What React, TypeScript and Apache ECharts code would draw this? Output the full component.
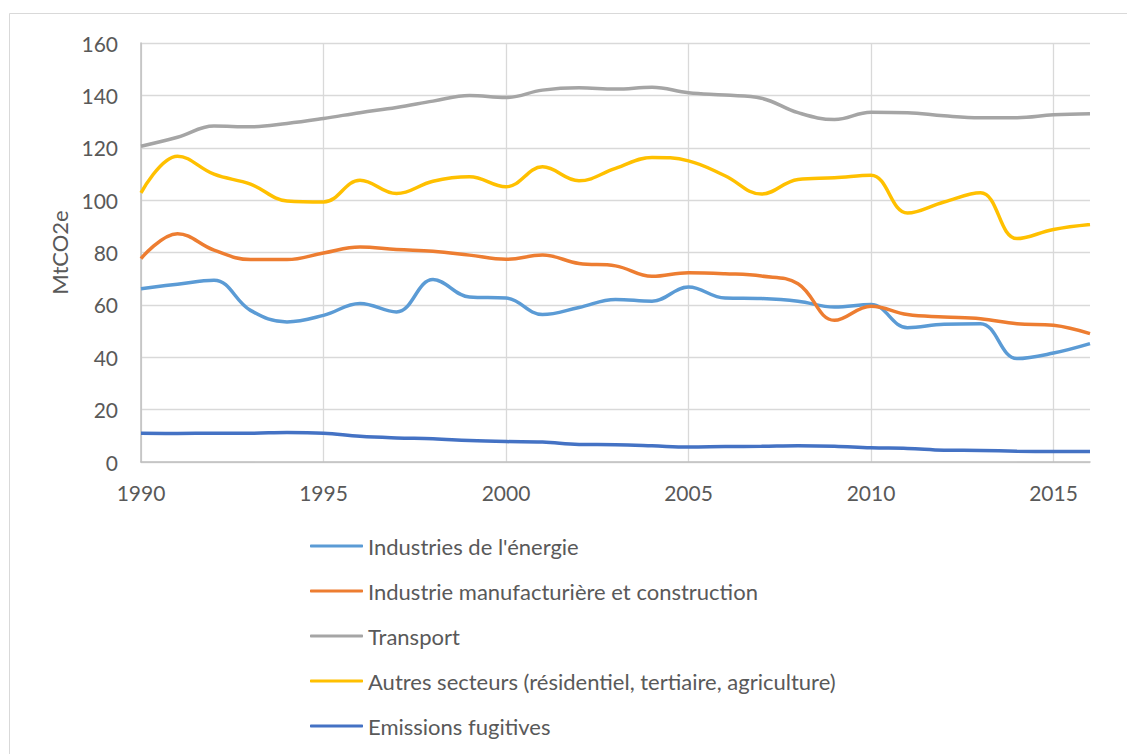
import React, { useEffect, useRef } from "react";
import * as echarts from "echarts";

const years = [
  "1990", "1991", "1992", "1993", "1994", "1995", "1996", "1997", "1998", "1999",
  "2000", "2001", "2002", "2003", "2004", "2005", "2006", "2007", "2008", "2009",
  "2010", "2011", "2012", "2013", "2014", "2015", "2016",
];

const energie = [
  66.2, 67.9, 69.4, 57.9, 53.5, 56.0, 60.5, 57.3, 69.7, 63.0,
  62.6, 56.3, 59.0, 62.1, 61.4, 66.8, 62.6, 62.4, 61.4, 59.2,
  60.1, 51.3, 52.6, 52.8, 39.5, 41.6, 45.2,
];

const manufacturiere = [
  77.7, 87.2, 80.9, 77.3, 77.3, 79.8, 82.1, 81.1, 80.5, 79.0,
  77.4, 79.0, 75.8, 74.9, 70.9, 72.3, 71.9, 71.0, 68.1, 54.1,
  59.5, 56.3, 55.4, 54.7, 52.8, 52.2, 49.0,
];

const transport = [
  120.6, 124.0, 128.3, 128.0, 129.3, 131.2, 133.4, 135.4, 137.8, 140.0,
  139.2, 142.0, 142.9, 142.4, 143.1, 141.0, 140.1, 138.9, 133.4, 130.8,
  133.6, 133.4, 132.2, 131.5, 131.5, 132.6, 133.0,
];

const autres = [
  102.8, 116.8, 109.9, 106.1, 99.7, 99.3, 107.6, 102.5, 107.2, 108.9,
  105.1, 112.7, 107.4, 112.1, 116.3, 115.0, 109.3, 102.3, 107.9, 108.5,
  109.5, 95.1, 99.3, 102.8, 85.3, 88.8, 90.7,
];

const fugitives = [
  11.0, 10.9, 11.0, 11.0, 11.3, 11.0, 9.8, 9.2, 8.9, 8.2,
  7.8, 7.6, 6.7, 6.6, 6.2, 5.7, 5.9, 6.0, 6.2, 6.0,
  5.4, 5.2, 4.5, 4.4, 4.1, 4.0, 4.0,
];

const seriesNames = [
  "Industries de l'énergie",
  "Industrie manufacturière et construction",
  "Transport",
  "Autres secteurs (résidentiel, tertiaire, agriculture)",
  "Emissions fugitives",
];

const seriesData = [energie, manufacturiere, transport, autres, fugitives];
const seriesColors = ["#5B9BD5", "#ED7D31", "#A5A5A5", "#FFC000", "#4472C4"];

const FONT = "Lato, 'Open Sans', sans-serif";
const TEXT = "#595959";

export default function App() {
  const ref = useRef<HTMLDivElement>(null);

  useEffect(() => {
    if (!ref.current) return;
    const chart = echarts.init(ref.current, undefined, { renderer: "svg" });
    chart.setOption({
      animation: false,
      backgroundColor: "#ffffff",
      textStyle: { fontFamily: FONT },
      graphic: [
        {
          type: "rect",
          shape: { x: 9.5, y: 13.5, width: 1140, height: 780 },
          style: { fill: "none", stroke: "#d9d9d9", lineWidth: 1 },
          silent: true,
        },
      ],
      grid: { left: 141, top: 43, right: 37, bottom: 292, containLabel: false },
      xAxis: {
        type: "category",
        data: years,
        boundaryGap: false,
        axisLine: { show: true, lineStyle: { color: "#bfbfbf", width: 1.5 } },
        axisTick: { show: false },
        axisLabel: {
          interval: 4,
          margin: 20,
          color: TEXT,
          fontSize: 21,
          fontFamily: FONT,
        },
        splitLine: {
          show: true,
          interval: 4,
          lineStyle: { color: "#d9d9d9", width: 1.3 },
        },
      },
      yAxis: {
        type: "value",
        min: 0,
        max: 160,
        interval: 20,
        name: "MtCO2e",
        nameLocation: "middle",
        nameGap: 68,
        nameTextStyle: { color: TEXT, fontSize: 22, fontFamily: FONT },
        axisLine: { show: true, lineStyle: { color: "#bfbfbf", width: 1.5 } },
        axisTick: { show: false },
        axisLabel: { margin: 23, color: TEXT, fontSize: 21, fontFamily: FONT },
        splitLine: { show: true, lineStyle: { color: "#d9d9d9", width: 1.3 } },
      },
      legend: {
        orient: "vertical",
        left: 305,
        top: 530,
        icon: "roundRect",
        itemWidth: 53,
        itemHeight: 3,
        itemGap: 23,
        textStyle: { color: TEXT, fontSize: 22, fontFamily: FONT, lineHeight: 22 },
        data: seriesNames,
      },
      series: seriesNames.map((name, i) => ({
        name,
        type: "line",
        data: seriesData[i],
        smooth: 0.4,
        symbol: "none",
        lineStyle: { color: seriesColors[i], width: 3.5 },
        itemStyle: { color: seriesColors[i] },
      })),
    });
    return () => chart.dispose();
  }, []);

  return (
    <div
      ref={ref}
      style={{ position: "fixed", left: 0, top: 0, width: 1127, height: 754 }}
    />
  );
}
